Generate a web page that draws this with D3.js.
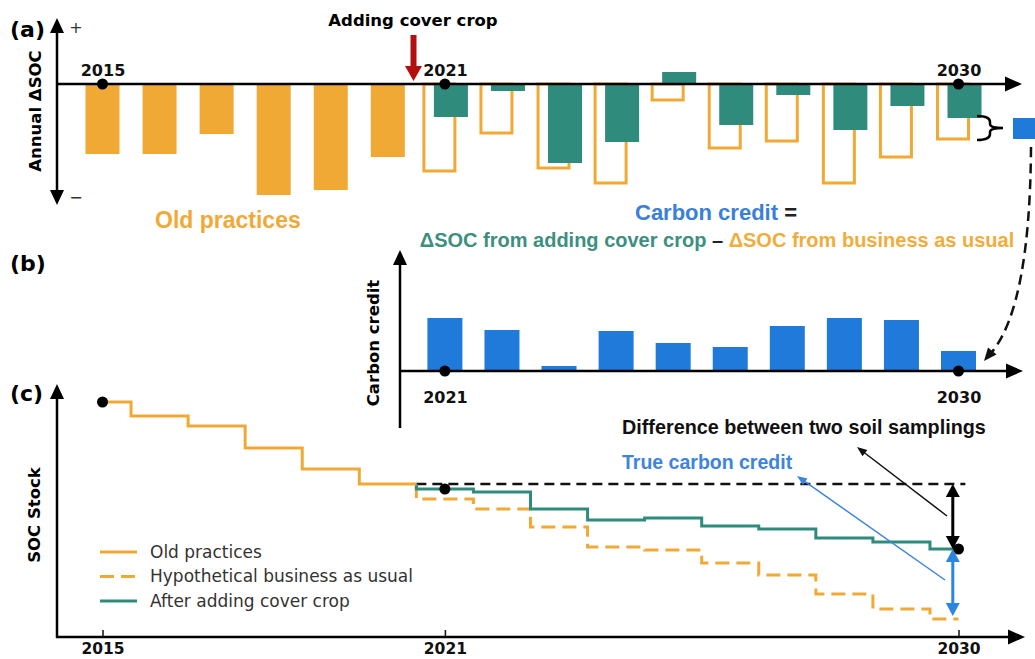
<!DOCTYPE html>
<html>
<head>
<meta charset="utf-8">
<script src="https://cdn.jsdelivr.net/npm/d3@7"></script>
<style>
  body { margin: 0; background: #fff; }
  svg { display: block; }
</style>
</head>
<body>
<div id="chart"></div>
<script>
// data (arbitrary units)
const oldYears = [2015, 2016, 2017, 2018, 2019, 2020];
const oldDelta = [-0.70, -0.70, -0.50, -1.11, -1.06, -0.73];
const newYears = [2021, 2022, 2023, 2024, 2025, 2026, 2027, 2028, 2029, 2030];
const bauDelta = [-0.87, -0.49, -0.84, -0.99, -0.16, -0.64, -0.57, -0.99, -0.73, -0.55];
const coverDelta = [-0.33, -0.07, -0.79, -0.58, 0.12, -0.41, -0.11, -0.46, -0.22, -0.34];
const credit = [0.53, 0.41, 0.05, 0.40, 0.28, 0.24, 0.45, 0.53, 0.51, 0.20];
const oldStock = [11.75, 11.05, 10.55, 9.45, 8.40, 7.65];
const coverStock = [7.40, 7.25, 6.40, 5.85, 5.95, 5.55, 5.40, 4.95, 4.75, 4.40];
const bauStock = [6.90, 6.40, 5.50, 4.50, 4.35, 3.70, 3.10, 2.15, 1.40, 0.90];
const tickYears = [2015, 2021, 2030];
const creditYears = [2021, 2030];
const legendItems = ["Old practices", "Hypothetical business as usual", "After adding cover crop"];

const ORANGE = "#f1a936", TEAL = "#2f8b7b", BLUE = "#1f7ada", RED = "#b30f0f";
const BOLD = "'DejaVu Sans', sans-serif";
const SANS = "'Liberation Sans', Arial, sans-serif";

const svg = d3.select("#chart").append("svg")
    .attr("width", 1035)
    .attr("height", 659);

// scales
const x = d3.scaleLinear().domain([2015, 2030]).range([102.5, 958.5]);
const yA = d3.scaleLinear().domain([-1, 0]).range([184, 84]);
const yB = d3.scaleLinear().domain([0, 1]).range([371, 271]);
const yC = d3.scaleLinear().domain([0, 12]).range([637, 397]);

// helpers for arrows
function head(g, x1, y1, x2, y2, len, wid, color) {
  const a = Math.atan2(y2 - y1, x2 - x1);
  const bx = x2 - len * Math.cos(a), by = y2 - len * Math.sin(a);
  const px = -Math.sin(a) * wid / 2, py = Math.cos(a) * wid / 2;
  g.append("path")
    .attr("d", `M${x2},${y2}L${bx + px},${by + py}L${bx - px},${by - py}Z`)
    .attr("fill", color);
}
function arrow(g, x1, y1, x2, y2, o) {
  const len = o.len || 16, wid = o.wid || 14, color = o.color || "#000";
  const a = Math.atan2(y2 - y1, x2 - x1);
  let sx = x1, sy = y1;
  const ex = x2 - (len - 1) * Math.cos(a), ey = y2 - (len - 1) * Math.sin(a);
  if (o.both) { sx = x1 + (len - 1) * Math.cos(a); sy = y1 + (len - 1) * Math.sin(a); }
  g.append("line")
    .attr("x1", sx).attr("y1", sy).attr("x2", ex).attr("y2", ey)
    .attr("stroke", color).attr("stroke-width", o.w || 2.5);
  head(g, x1, y1, x2, y2, len, wid, color);
  if (o.both) head(g, x2, y2, x1, y1, len, wid, color);
}
function dot(g, cx, cy) {
  g.append("circle").attr("cx", cx).attr("cy", cy).attr("r", 5.5).attr("fill", "#000");
}

// ===== panel (a) =====
const a = svg.append("g");

a.selectAll(".old").data(oldYears).enter().append("rect")
    .attr("x", d => x(d) - 17)
    .attr("y", yA(0))
    .attr("width", 34)
    .attr("height", (d, i) => yA(oldDelta[i]) - yA(0))
    .attr("fill", ORANGE);

a.selectAll(".bau").data(newYears).enter().append("rect")
    .attr("x", d => x(d) - 21)
    .attr("y", (d, i) => Math.min(yA(0), yA(bauDelta[i])))
    .attr("width", 31)
    .attr("height", (d, i) => Math.abs(yA(bauDelta[i]) - yA(0)))
    .attr("fill", "none")
    .attr("stroke", ORANGE)
    .attr("stroke-width", 3);

a.selectAll(".cover").data(newYears).enter().append("rect")
    .attr("x", d => x(d) - 11)
    .attr("y", (d, i) => Math.min(yA(0), yA(coverDelta[i])))
    .attr("width", 34)
    .attr("height", (d, i) => Math.abs(yA(coverDelta[i]) - yA(0)))
    .attr("fill", TEAL);

// axes
arrow(a, 57, 205, 57, 18, {both: true, len: 15, wid: 14});
arrow(a, 57, yA(0), 1022, yA(0), {len: 17, wid: 15});
a.append("g")
    .attr("transform", "translate(0," + yA(0) + ")")
    .call(d3.axisTop(x).tickValues(tickYears).tickFormat(d3.format("d")).tickSize(0).tickPadding(8))
    .call(g => g.select(".domain").remove())
    .selectAll("text")
    .attr("font-family", BOLD).attr("font-weight", "bold").attr("font-size", 16).attr("fill", "#111");
tickYears.forEach(t => dot(a, x(t), yA(0)));

a.append("text").attr("x", 76).attr("y", 33).attr("text-anchor", "middle")
    .attr("font-family", BOLD).attr("font-size", 16).attr("fill", "#333").text("+");
a.append("text").attr("x", 76).attr("y", 203).attr("text-anchor", "middle")
    .attr("font-family", BOLD).attr("font-size", 16).attr("fill", "#333").text("\u2212");
a.append("text").attr("transform", "translate(41,111) rotate(-90)")
    .attr("text-anchor", "middle")
    .attr("font-family", BOLD).attr("font-weight", "bold").attr("font-size", 16.5)
    .text("Annual \u0394SOC");
a.append("text").attr("x", 10).attr("y", 37)
    .attr("font-family", BOLD).attr("font-weight", "bold").attr("font-size", 22).text("(a)");

// adding cover crop marker
a.append("text").attr("x", 413).attr("y", 26).attr("text-anchor", "middle")
    .attr("font-family", BOLD).attr("font-weight", "bold").attr("font-size", 16.5)
    .text("Adding cover crop");
arrow(a, x(2020.45), 35, x(2020.45), 81, {len: 15, wid: 17, color: RED, w: 6});

a.append("text").attr("x", 155).attr("y", 228)
    .attr("font-family", SANS).attr("font-weight", "bold").attr("font-size", 23)
    .attr("fill", ORANGE).text("Old practices");

// brace + credit chip for the last year
const last = newYears.length - 1;
const bt = yA(coverDelta[last]) - 2, bb = yA(bauDelta[last]) + 1, bm = (bt + bb) / 2;
a.append("path")
    .attr("d", `M977,${bt} Q990,${bt} 990,${bt + 6} L990,${bm - 4} Q990,${bm} 1003,${bm} ` +
               `Q990,${bm} 990,${bm + 4} L990,${bb - 6} Q990,${bb} 977,${bb}`)
    .attr("fill", "none").attr("stroke", "#000").attr("stroke-width", 2.5);
a.append("rect")
    .attr("x", 1013).attr("y", yA(coverDelta[last]))
    .attr("width", 30).attr("height", yA(bauDelta[last]) - yA(coverDelta[last]))
    .attr("fill", BLUE);

// equation text
const eq1 = a.append("text").attr("x", 716).attr("y", 220).attr("text-anchor", "middle")
    .attr("font-family", SANS).attr("font-weight", "bold").attr("font-size", 22);
eq1.append("tspan").attr("fill", "#3a7fd8").text("Carbon credit ");
eq1.append("tspan").attr("fill", "#222").text("=");
const eq2 = a.append("text").attr("x", 717).attr("y", 247).attr("text-anchor", "middle")
    .attr("font-family", SANS).attr("font-weight", "bold").attr("font-size", 20);
eq2.append("tspan").attr("fill", "#3d8f80").text("\u0394SOC from adding cover crop ");
eq2.append("tspan").attr("fill", "#222").text("\u2013");
eq2.append("tspan").attr("fill", "#f0ad3c").text(" \u0394SOC from business as usual");

// dashed curved arrow down to panel (b)
const cEnd = [984, 361], cCtl = [1030, 305];
a.append("path")
    .attr("d", `M1031,147 Q${cCtl[0]},${cCtl[1]} ${cEnd[0] + 8},${cEnd[1] - 9}`)
    .attr("fill", "none").attr("stroke", "#111").attr("stroke-width", 2.5)
    .attr("stroke-dasharray", "10,6");
head(a, cCtl[0], cCtl[1], cEnd[0], cEnd[1], 13, 11, "#111");

// ===== panel (b) =====
const b = svg.append("g");
b.selectAll(".credit").data(newYears).enter().append("rect")
    .attr("x", d => x(d) - 17.5)
    .attr("y", (d, i) => yB(credit[i]))
    .attr("width", 35)
    .attr("height", (d, i) => yB(0) - yB(credit[i]))
    .attr("fill", BLUE);
arrow(b, 400, 428, 400, 250, {len: 15, wid: 14});
arrow(b, 400, yB(0), 1023, yB(0), {len: 17, wid: 15});
b.append("g")
    .attr("transform", "translate(0," + yB(0) + ")")
    .call(d3.axisBottom(x).tickValues(creditYears).tickFormat(d3.format("d")).tickSize(0).tickPadding(21))
    .call(g => g.select(".domain").remove())
    .selectAll("text")
    .attr("font-family", BOLD).attr("font-weight", "bold").attr("font-size", 16).attr("fill", "#111");
creditYears.forEach(t => dot(b, x(t), yB(0)));
b.append("text").attr("transform", "translate(379,343) rotate(-90)")
    .attr("text-anchor", "middle")
    .attr("font-family", BOLD).attr("font-weight", "bold").attr("font-size", 16.5)
    .text("Carbon credit");
b.append("text").attr("x", 10).attr("y", 271)
    .attr("font-family", BOLD).attr("font-weight", "bold").attr("font-size", 22).text("(b)");

// ===== panel (c) =====
const c = svg.append("g");

function stepPoints(years, levels, startPt, endX) {
  const pts = startPt ? [startPt] : [];
  years.forEach((yr, i) => {
    const x0 = (i === 0 && !startPt) ? yr : yr - 0.5;
    const x1 = (i === years.length - 1) ? endX : yr + 0.5;
    pts.push([x0, levels[i]], [x1, levels[i]]);
  });
  return pts;
}
const stockLine = d3.line().x(d => x(d[0])).y(d => yC(d[1]));
const split = [2020.5, oldStock[oldStock.length - 1]];

// reference level at the 2021 sampling
c.append("line")
    .attr("x1", x(2020.5)).attr("x2", x(2030.12))
    .attr("y1", yC(split[1])).attr("y2", yC(split[1]))
    .attr("stroke", "#111").attr("stroke-width", 2.5).attr("stroke-dasharray", "10,6");

c.append("path").datum(stepPoints(newYears, bauStock, split, 2030))
    .attr("d", stockLine).attr("fill", "none")
    .attr("stroke", ORANGE).attr("stroke-width", 3).attr("stroke-dasharray", "14,7");
c.append("path").datum(stepPoints(newYears, coverStock, split, 2030))
    .attr("d", stockLine).attr("fill", "none")
    .attr("stroke", TEAL).attr("stroke-width", 3);
c.append("path").datum(stepPoints(oldYears, oldStock, null, 2020.5))
    .attr("d", stockLine).attr("fill", "none")
    .attr("stroke", ORANGE).attr("stroke-width", 3);

// axes
arrow(c, 57, 638, 57, 384, {len: 15, wid: 14});
arrow(c, 56, 637, 1025, 637, {len: 17, wid: 15});
c.append("g")
    .attr("transform", "translate(0,637)")
    .call(d3.axisBottom(x).tickValues(tickYears).tickFormat(d3.format("d")).tickSizeInner(-7).tickSizeOuter(0).tickPadding(6))
    .call(g => g.select(".domain").remove())
    .call(g => g.selectAll(".tick line").attr("stroke", "#111").attr("stroke-width", 1.5))
    .selectAll("text")
    .attr("font-family", BOLD).attr("font-weight", "bold").attr("font-size", 15.5).attr("fill", "#111");
c.append("text").attr("transform", "translate(40,515) rotate(-90)")
    .attr("text-anchor", "middle")
    .attr("font-family", BOLD).attr("font-weight", "bold").attr("font-size", 16.5)
    .text("SOC Stock");
c.append("text").attr("x", 10).attr("y", 401)
    .attr("font-family", BOLD).attr("font-weight", "bold").attr("font-size", 22).text("(c)");

dot(c, x(2015), yC(oldStock[0]));
dot(c, x(2021), yC(coverStock[0]));
dot(c, x(2030), yC(coverStock[last]));

// sampling difference and true credit arrows
const ax = x(2029.9);
arrow(c, ax, yC(split[1]), ax, yC(coverStock[last]), {both: true, len: 13, wid: 14, w: 3});
arrow(c, ax, yC(coverStock[last]), ax, yC(bauStock[last]) - 3, {both: true, len: 13, wid: 14, w: 3, color: "#2a86e0"});

c.append("text").attr("x", 622).attr("y", 434)
    .attr("font-family", SANS).attr("font-weight", "bold").attr("font-size", 19.8)
    .attr("fill", "#111").text("Difference between two soil samplings");
arrow(c, 947, 516, 857, 447, {len: 10, wid: 8, w: 1.5, color: "#111"});
c.append("text").attr("x", 622).attr("y", 469)
    .attr("font-family", SANS).attr("font-weight", "bold").attr("font-size", 19.5)
    .attr("fill", "#3d84de").text("True carbon credit");
arrow(c, 945, 580, 797, 476, {len: 10, wid: 8, w: 1.5, color: "#3d84de"});

// legend
const leg = c.append("g").attr("transform", "translate(100,552)");
legendItems.forEach((name, i) => {
  const row = leg.append("g").attr("transform", "translate(0," + (i * 24.5) + ")");
  row.append("line").attr("x1", 0).attr("x2", 37).attr("y1", 0).attr("y2", 0)
      .attr("stroke", i === 2 ? TEAL : ORANGE).attr("stroke-width", 3)
      .attr("stroke-dasharray", i === 1 ? "14,7" : null);
  row.append("text").attr("x", 50).attr("y", 0).attr("dy", "0.35em")
      .attr("font-family", BOLD).attr("font-size", 17).attr("fill", "#333").text(name);
});
</script>
</body>
</html>
